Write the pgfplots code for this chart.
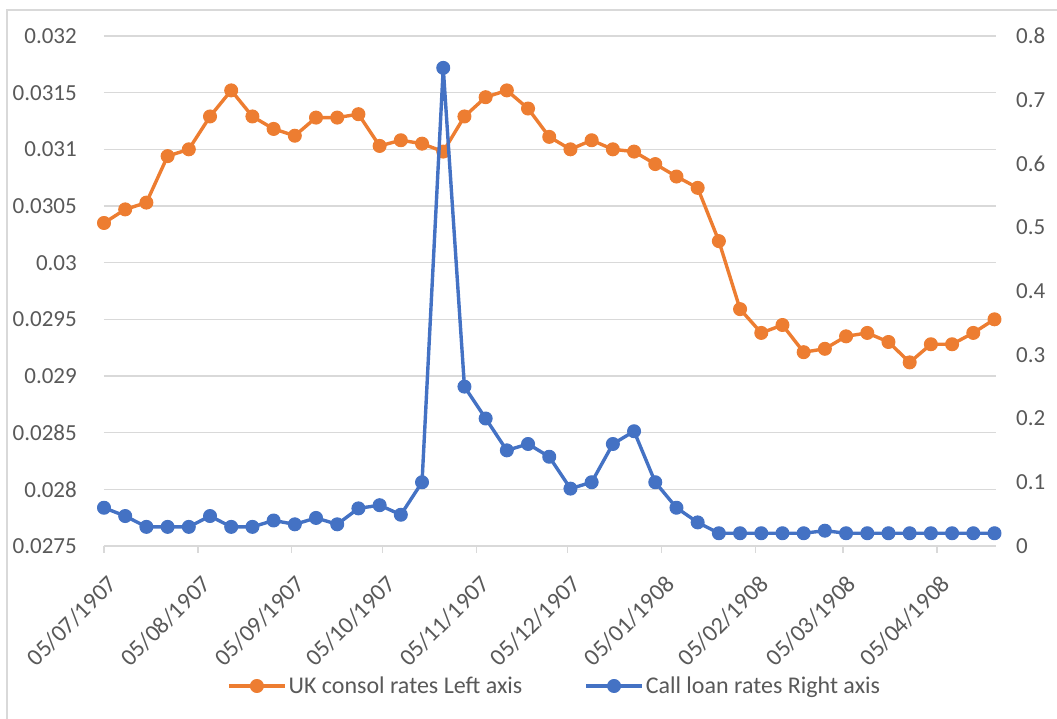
\documentclass[border=0pt]{standalone}
\usepackage{fontspec}
\setmainfont{Carlito}
\usepackage{pgfplots}
\pgfplotsset{compat=1.18}
\definecolor{orng}{HTML}{ED7D31}
\definecolor{blu}{HTML}{4472C4}
\definecolor{grd}{HTML}{D9D9D9}
\definecolor{txt}{HTML}{595959}
\pgfplotstableread{
day consol call
0 0.03035 0.060
7 0.03047 0.047
14 0.03053 0.030
21 0.03094 0.030
28 0.03100 0.030
35 0.03129 0.047
42 0.03152 0.030
49 0.03129 0.030
56 0.03118 0.040
63 0.03112 0.034
70 0.03128 0.044
77 0.03128 0.034
84 0.03131 0.059
91 0.03103 0.064
98 0.03108 0.049
105 0.03105 0.100
112 0.03098 0.750
119 0.03129 0.250
126 0.03146 0.200
133 0.03152 0.150
140 0.03136 0.160
147 0.03111 0.140
154 0.03100 0.090
161 0.03108 0.100
168 0.03100 0.160
175 0.03098 0.180
182 0.03087 0.100
189 0.03076 0.060
196 0.03066 0.037
203 0.03019 0.020
210 0.02959 0.020
217 0.02938 0.020
224 0.02945 0.020
231 0.02921 0.020
238 0.02924 0.024
245 0.02935 0.020
252 0.02938 0.020
259 0.02930 0.020
266 0.02912 0.020
273 0.02928 0.020
280 0.02928 0.020
287 0.02938 0.020
294 0.02950 0.020
}\datatable
\pgfplotsset{
  base/.style={
    at={(104pt,173pt)}, anchor=south west, scale only axis,
    width=892pt, height=510pt,
    xmin=0, xmax=294.5, clip=false,
    scaled y ticks=false, scaled x ticks=false,
    font=\fontsize{24}{29}\selectfont,
    /pgf/number format/assume math mode=true,
    ticklabel style={text=txt, font=\fontsize{24}{29}\selectfont},
  },
  orangestyle/.style={orng, line width=3.4pt, line join=round, mark=*, mark size=6.5pt,
    mark options={solid, fill=orng, draw=orng, line width=1pt}},
  bluestyle/.style={blu, line width=3.4pt, line join=round, mark=*, mark size=6.5pt,
    mark options={solid, fill=blu, draw=blu, line width=1pt}},
}
\begin{document}
\begin{tikzpicture}[x=1pt,y=1pt]
\path[use as bounding box] (0,0) rectangle (1057,719);
\draw[grd, line width=1.2pt] (7,0) -- (7,709) -- (1057,709);
\begin{axis}[base,
  ymin=0.0275, ymax=0.032,
  ytick={0.0275,0.028,0.0285,0.029,0.0295,0.03,0.0305,0.031,0.0315,0.032},
  yticklabels={0.0275,0.028,0.0285,0.029,0.0295,0.03,0.0305,0.031,0.0315,0.032},
  ymajorgrids, grid style={grd, line width=1.3pt},
  axis x line*=bottom, axis y line*=left,
  x axis line style={-, grd, line width=1.3pt},
  y axis line style={draw=none},
  ytick style={draw=none},
  xtick style={grd, line width=1.3pt},
  tick align=outside, major tick length=7pt,
  xtick={0,31,62,92,123,153,184,215,244,275},
  xticklabels={05/07/1907,05/08/1907,05/09/1907,05/10/1907,05/11/1907,05/12/1907,05/01/1908,05/02/1908,05/03/1908,05/04/1908},
  xticklabel style={anchor=east, inner sep=0pt, xshift=9pt, yshift=-27pt, rotate=45},
  yticklabel style={anchor=east, inner sep=0pt, xshift=-20pt, font=\fontsize{23}{28}\selectfont},
]
\addplot[orangestyle] table[x=day, y=consol] {\datatable};
\end{axis}
\begin{axis}[base,
  ymin=0, ymax=0.8,
  ytick={0,0.1,0.2,0.3,0.4,0.5,0.6,0.7,0.8},
  yticklabels={0,0.1,0.2,0.3,0.4,0.5,0.6,0.7,0.8},
  axis y line*=right, axis x line=none,
  y axis line style={draw=none},
  ytick style={draw=none},
  yticklabel style={anchor=west, inner sep=0pt, xshift=20pt, font=\fontsize{23}{28}\selectfont},
  legend columns=2,
  legend style={at={(0.1379,-0.2745)}, anchor=west, draw=none, fill=none,
    inner sep=0pt, text=txt, font=\fontsize{24}{29}\selectfont,
    /tikz/every even column/.append style={column sep=60pt}},
  legend image code/.code={\draw[#1, mark repeat=2, mark phase=2] plot coordinates {(0pt,0pt) (28pt,0pt) (56pt,0pt)};},
]
\addlegendimage{orangestyle}
\addlegendentry{UK consol rates Left axis}
\addplot[bluestyle] table[x=day, y=call] {\datatable};
\addlegendentry{Call loan rates Right axis}
\end{axis}
\end{tikzpicture}
\end{document}
